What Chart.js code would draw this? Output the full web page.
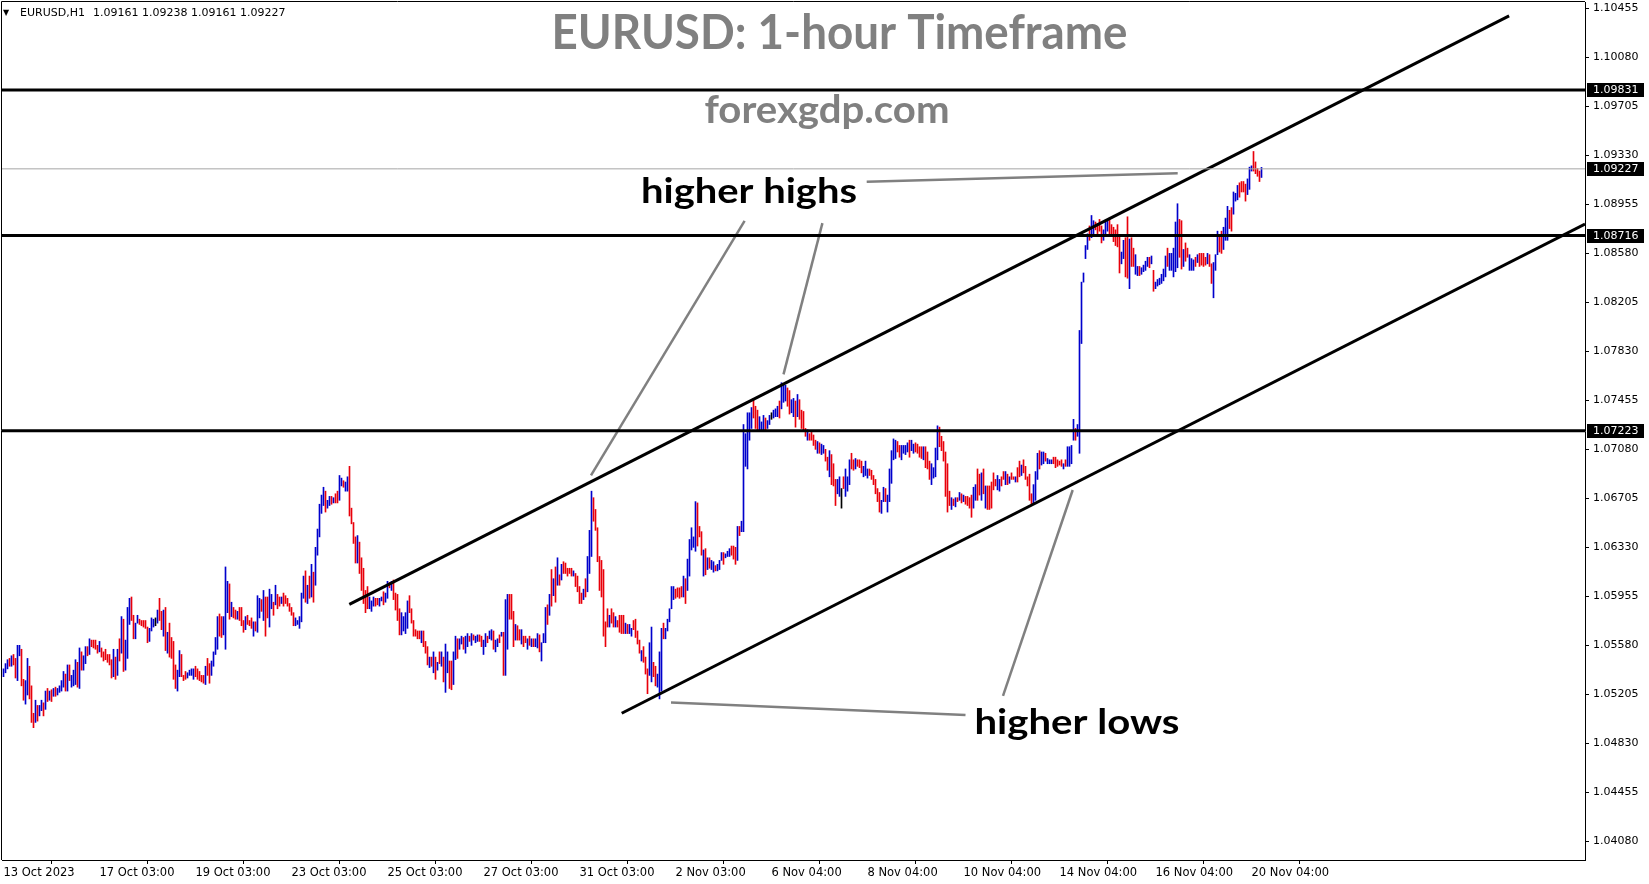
<!DOCTYPE html>
<html>
<head>
<meta charset="utf-8">
<title>EURUSD H1</title>
<script src="https://cdn.jsdelivr.net/npm/chart.js@4.4.0/dist/chart.umd.min.js"></script>
<style>
  html, body { margin: 0; padding: 0; background: #fff; }
  #wrap { width: 1649px; height: 884px; }
</style>
</head>
<body>
<div id="wrap"><canvas id="eurusdChart" width="1649" height="884"></canvas></div>
<script>
// EURUSD hourly bars, 13 Oct 2023 -> 20 Nov 2023
const highs = [
  1.0540,1.0544,1.0547,1.0548,1.0550,1.0551,1.0548,1.0558,1.0558,1.0555,
  1.0532,1.0531,1.0548,1.0542,1.0527,1.0506,1.0516,1.0512,1.0512,1.0516,
  1.0514,1.0523,1.0525,1.0523,1.0524,1.0525,1.0526,1.0525,1.0527,1.0531,
  1.0538,1.0536,1.0543,1.0543,1.0535,1.0539,1.0547,1.0545,1.0556,1.0553,
  1.0550,1.0557,1.0557,1.0563,1.0562,1.0562,1.0562,1.0558,1.0561,1.0556,
  1.0553,1.0555,1.0551,1.0551,1.0547,1.0555,1.0549,1.0555,1.0563,1.0580,
  1.0578,1.0562,1.0587,1.0594,1.0595,1.0581,1.0575,1.0581,1.0578,1.0577,
  1.0577,1.0577,1.0572,1.0571,1.0579,1.0578,1.0579,1.0585,1.0594,1.0584,
  1.0585,1.0587,1.0568,1.0575,1.0564,1.0561,1.0543,1.0539,1.0554,1.0551,
  1.0535,1.0538,1.0537,1.0539,1.0540,1.0540,1.0542,1.0540,1.0538,1.0535,
  1.0535,1.0542,1.0548,1.0544,1.0546,1.0553,1.0564,1.0580,1.0582,1.0580,
  1.0580,1.0618,1.0607,1.0605,1.0591,1.0587,1.0585,1.0584,1.0587,1.0587,
  1.0577,1.0580,1.0581,1.0577,1.0579,1.0576,1.0576,1.0596,1.0594,1.0593,
  1.0600,1.0595,1.0595,1.0601,1.0597,1.0591,1.0604,1.0597,1.0595,1.0595,
  1.0598,1.0596,1.0594,1.0590,1.0587,1.0583,1.0579,1.0577,1.0580,1.0598,
  1.0611,1.0615,1.0604,1.0611,1.0620,1.0614,1.0633,1.0647,1.0666,1.0673,
  1.0679,1.0676,1.0669,1.0672,1.0672,1.0671,1.0674,1.0676,1.0688,1.0686,
  1.0684,1.0683,1.0687,1.0695,1.0663,1.0652,1.0641,1.0642,1.0637,1.0625,
  1.0617,1.0600,1.0603,1.0595,1.0592,1.0595,1.0594,1.0594,1.0594,1.0595,
  1.0599,1.0598,1.0607,1.0606,1.0607,1.0608,1.0598,1.0597,1.0586,1.0583,
  1.0580,1.0583,1.0592,1.0596,1.0586,1.0577,1.0570,1.0569,1.0569,1.0569,
  1.0569,1.0561,1.0557,1.0549,1.0549,1.0553,1.0549,1.0545,1.0553,1.0553,
  1.0549,1.0559,1.0553,1.0546,1.0546,1.0553,1.0565,1.0563,1.0563,1.0565,
  1.0564,1.0565,1.0567,1.0565,1.0567,1.0566,1.0565,1.0566,1.0566,1.0565,
  1.0562,1.0567,1.0565,1.0569,1.0570,1.0569,1.0562,1.0563,1.0566,1.0568,
  1.0568,1.0593,1.0597,1.0597,1.0597,1.0584,1.0574,1.0573,1.0570,1.0570,
  1.0565,1.0565,1.0563,1.0565,1.0563,1.0563,1.0563,1.0567,1.0566,1.0560,
  1.0567,1.0587,1.0589,1.0597,1.0616,1.0609,1.0618,1.0625,1.0612,1.0620,
  1.0622,1.0621,1.0617,1.0617,1.0617,1.0615,1.0613,1.0611,1.0603,1.0598,
  1.0601,1.0609,1.0626,1.0646,1.0676,1.0671,1.0662,1.0648,1.0626,1.0623,
  1.0616,1.0576,1.0586,1.0581,1.0586,1.0583,1.0580,1.0577,1.0581,1.0581,
  1.0581,1.0575,1.0574,1.0574,1.0571,1.0577,1.0578,1.0569,1.0562,1.0554,
  1.0557,1.0549,1.0540,1.0560,1.0572,1.0545,1.0542,1.0536,1.0553,1.0571,
  1.0575,1.0571,1.0578,1.0586,1.0603,1.0603,1.0601,1.0602,1.0602,1.0603,
  1.0611,1.0609,1.0624,1.0639,1.0648,1.0641,1.0668,1.0667,1.0649,1.0645,
  1.0631,1.0632,1.0625,1.0625,1.0623,1.0622,1.0619,1.0620,1.0623,1.0629,
  1.0629,1.0628,1.0630,1.0632,1.0634,1.0634,1.0633,1.0649,1.0649,1.0653,
  1.0727,1.0720,1.0736,1.0736,1.0740,1.0747,1.0741,1.0738,1.0733,1.0729,
  1.0734,1.0732,1.0730,1.0734,1.0736,1.0738,1.0739,1.0741,1.0745,1.0759,
  1.0757,1.0757,1.0755,1.0753,1.0746,1.0747,1.0745,1.0750,1.0746,1.0738,
  1.0737,1.0724,1.0723,1.0720,1.0721,1.0719,1.0715,1.0714,1.0713,1.0712,
  1.0711,1.0708,1.0702,1.0707,1.0704,1.0697,1.0685,1.0685,1.0687,1.0678,
  1.0687,1.0693,1.0687,1.0700,1.0705,1.0700,1.0701,1.0700,1.0700,1.0699,
  1.0695,1.0699,1.0693,1.0693,1.0692,1.0688,1.0685,1.0678,1.0675,1.0669,
  1.0679,1.0678,1.0673,1.0693,1.0707,1.0716,1.0715,1.0714,1.0711,1.0711,
  1.0711,1.0711,1.0713,1.0715,1.0715,1.0712,1.0713,1.0712,1.0710,1.0710,
  1.0710,1.0710,1.0706,1.0699,1.0697,1.0694,1.0709,1.0726,1.0725,1.0718,
  1.0714,1.0706,1.0697,1.0676,1.0671,1.0670,1.0671,1.0671,1.0675,1.0674,
  1.0673,1.0672,1.0672,1.0671,1.0673,1.0679,1.0681,1.0693,1.0689,1.0690,
  1.0693,1.0680,1.0680,1.0680,1.0683,1.0690,1.0685,1.0688,1.0685,1.0687,
  1.0691,1.0691,1.0689,1.0687,1.0690,1.0687,1.0687,1.0694,1.0699,1.0696,
  1.0700,1.0695,1.0687,1.0689,1.0674,1.0681,1.0691,1.0705,1.0707,1.0706,
  1.0706,1.0705,1.0701,1.0700,1.0700,1.0702,1.0702,1.0700,1.0699,1.0700,
  1.0697,1.0700,1.0710,1.0710,1.0711,1.0731,1.0724,1.0727,1.0799,1.0836,
  1.0843,1.0864,1.0873,1.0879,1.0887,1.0883,1.0882,1.0881,1.0884,1.0879,
  1.0876,1.0882,1.0883,1.0885,1.0880,1.0878,1.0876,1.0880,1.0871,1.0859,
  1.0868,1.0870,1.0886,1.0869,1.0870,1.0862,1.0857,1.0848,1.0848,1.0847,
  1.0849,1.0852,1.0855,1.0855,1.0856,1.0845,1.0836,1.0838,1.0839,1.0842,
  1.0846,1.0856,1.0862,1.0858,1.0858,1.0862,1.0882,1.0896,1.0884,1.0883,
  1.0861,1.0866,1.0862,1.0857,1.0854,1.0853,1.0855,1.0857,1.0858,1.0858,
  1.0858,1.0855,1.0858,1.0857,1.0850,1.0851,1.0857,1.0875,1.0872,1.0875,
  1.0878,1.0885,1.0894,1.0891,1.0893,1.0905,1.0904,1.0910,1.0912,1.0913,
  1.0913,1.0911,1.0915,1.0924,1.0925,1.0936,1.0928,1.0923,1.0921,1.09238
];
const lows = [
  1.0534,1.0537,1.0540,1.0542,1.0542,1.0543,1.0533,1.0531,1.0550,1.0527,
  1.0516,1.0513,1.0520,1.0517,1.0499,1.0495,1.0499,1.0500,1.0504,1.0508,
  1.0504,1.0509,1.0515,1.0516,1.0515,1.0519,1.0519,1.0520,1.0522,1.0523,
  1.0526,1.0523,1.0523,1.0531,1.0526,1.0527,1.0528,1.0526,1.0525,1.0539,
  1.0539,1.0544,1.0550,1.0551,1.0557,1.0556,1.0555,1.0552,1.0553,1.0549,
  1.0546,1.0547,1.0545,1.0543,1.0533,1.0534,1.0532,1.0535,1.0546,1.0552,
  1.0538,1.0539,1.0548,1.0574,1.0577,1.0563,1.0563,1.0575,1.0574,1.0573,
  1.0572,1.0571,1.0560,1.0561,1.0569,1.0572,1.0573,1.0575,1.0577,1.0570,
  1.0565,1.0554,1.0552,1.0549,1.0548,1.0532,1.0525,1.0523,1.0534,1.0534,
  1.0531,1.0532,1.0533,1.0535,1.0535,1.0532,1.0534,1.0532,1.0531,1.0530,
  1.0529,1.0528,1.0535,1.0529,1.0535,1.0542,1.0551,1.0555,1.0565,1.0564,
  1.0566,1.0555,1.0583,1.0578,1.0580,1.0579,1.0578,1.0578,1.0577,1.0573,
  1.0568,1.0570,1.0574,1.0573,1.0571,1.0565,1.0569,1.0568,1.0579,1.0584,
  1.0577,1.0565,1.0579,1.0572,1.0586,1.0581,1.0589,1.0586,1.0588,1.0590,
  1.0588,1.0590,1.0588,1.0584,1.0581,1.0573,1.0573,1.0574,1.0571,1.0576,
  1.0594,1.0591,1.0590,1.0594,1.0595,1.0591,1.0604,1.0627,1.0641,1.0659,
  1.0665,1.0660,1.0663,1.0665,1.0666,1.0667,1.0667,1.0667,1.0669,1.0680,
  1.0679,1.0676,1.0676,1.0657,1.0651,1.0636,1.0621,1.0621,1.0613,1.0600,
  1.0590,1.0583,1.0586,1.0586,1.0584,1.0588,1.0588,1.0589,1.0588,1.0592,
  1.0589,1.0591,1.0594,1.0602,1.0600,1.0593,1.0585,1.0577,1.0566,1.0566,
  1.0569,1.0567,1.0571,1.0583,1.0575,1.0565,1.0565,1.0563,1.0563,1.0560,
  1.0557,1.0552,1.0543,1.0541,1.0542,1.0537,1.0532,1.0539,1.0544,1.0542,
  1.0530,1.0522,1.0537,1.0525,1.0524,1.0528,1.0547,1.0548,1.0555,1.0559,
  1.0555,1.0552,1.0557,1.0561,1.0558,1.0562,1.0560,1.0561,1.0561,1.0557,
  1.0551,1.0557,1.0560,1.0563,1.0562,1.0555,1.0553,1.0557,1.0560,1.0565,
  1.0535,1.0535,1.0555,1.0578,1.0578,1.0557,1.0562,1.0562,1.0562,1.0559,
  1.0557,1.0560,1.0555,1.0558,1.0557,1.0557,1.0557,1.0556,1.0553,1.0546,
  1.0560,1.0560,1.0574,1.0581,1.0588,1.0596,1.0591,1.0604,1.0604,1.0608,
  1.0613,1.0613,1.0611,1.0613,1.0611,1.0611,1.0603,1.0599,1.0590,1.0590,
  1.0593,1.0595,1.0599,1.0613,1.0626,1.0653,1.0646,1.0622,1.0600,1.0595,
  1.0565,1.0557,1.0572,1.0572,1.0575,1.0572,1.0572,1.0572,1.0568,1.0567,
  1.0567,1.0567,1.0567,1.0567,1.0565,1.0570,1.0564,1.0559,1.0552,1.0546,
  1.0545,1.0536,1.0521,1.0535,1.0530,1.0534,1.0527,1.0526,1.0517,1.0523,
  1.0563,1.0563,1.0569,1.0576,1.0586,1.0593,1.0594,1.0595,1.0594,1.0595,
  1.0595,1.0590,1.0600,1.0611,1.0631,1.0633,1.0630,1.0634,1.0641,1.0627,
  1.0611,1.0612,1.0616,1.0617,1.0616,1.0614,1.0615,1.0615,1.0616,1.0623,
  1.0620,1.0625,1.0626,1.0626,1.0627,1.0624,1.0620,1.0623,1.0642,1.0645,
  1.0645,1.0695,1.0693,1.0715,1.0724,1.0732,1.0724,1.0723,1.0723,1.0723,
  1.0723,1.0723,1.0724,1.0727,1.0731,1.0732,1.0733,1.0733,1.0732,1.0739,
  1.0744,1.0745,1.0741,1.0735,1.0736,1.0733,1.0725,1.0733,1.0731,1.0724,
  1.0723,1.0718,1.0715,1.0715,1.0715,1.0711,1.0708,1.0705,1.0705,1.0704,
  1.0705,1.0699,1.0692,1.0687,1.0681,1.0680,1.0665,1.0674,1.0672,1.0663,
  1.0678,1.0672,1.0676,1.0681,1.0693,1.0692,1.0693,1.0695,1.0694,1.0690,
  1.0687,1.0688,1.0686,1.0688,1.0685,1.0681,1.0674,1.0668,1.0660,1.0659,
  1.0668,1.0668,1.0660,1.0668,1.0682,1.0700,1.0701,1.0706,1.0702,1.0700,
  1.0705,1.0704,1.0706,1.0702,1.0707,1.0705,1.0706,1.0705,1.0702,1.0701,
  1.0700,1.0694,1.0693,1.0685,1.0681,1.0686,1.0687,1.0700,1.0710,1.0707,
  1.0699,1.0672,1.0660,1.0665,1.0662,1.0665,1.0664,1.0668,1.0669,1.0667,
  1.0668,1.0666,1.0665,1.0663,1.0656,1.0663,1.0669,1.0669,1.0673,1.0669,
  1.0674,1.0663,1.0662,1.0662,1.0663,1.0677,1.0680,1.0677,1.0676,1.0680,
  1.0685,1.0681,1.0681,1.0682,1.0685,1.0685,1.0683,1.0683,1.0687,1.0688,
  1.0690,1.0685,1.0680,1.0669,1.0666,1.0667,1.0669,1.0685,1.0693,1.0696,
  1.0697,1.0699,1.0697,1.0697,1.0697,1.0697,1.0694,1.0695,1.0696,1.0695,
  1.0693,1.0695,1.0695,1.0695,1.0697,1.0715,1.0715,1.0718,1.0705,1.0789,
  1.0836,1.0854,1.0861,1.0868,1.0870,1.0871,1.0876,1.0873,1.0875,1.0866,
  1.0868,1.0872,1.0875,1.0871,1.0873,1.0867,1.0864,1.0863,1.0843,1.0850,
  1.0854,1.0840,1.0839,1.0831,1.0848,1.0848,1.0842,1.0841,1.0841,1.0842,
  1.0844,1.0845,1.0848,1.0847,1.0850,1.0829,1.0831,1.0833,1.0834,1.0835,
  1.0837,1.0840,1.0848,1.0845,1.0845,1.0840,1.0844,1.0847,1.0855,1.0846,
  1.0848,1.0852,1.0855,1.0845,1.0845,1.0845,1.0848,1.0851,1.0848,1.0849,
  1.0848,1.0849,1.0850,1.0848,1.0835,1.0824,1.0845,1.0857,1.0859,1.0858,
  1.0861,1.0868,1.0868,1.0877,1.0875,1.0888,1.0898,1.0899,1.0901,1.0905,
  1.0905,1.0898,1.0903,1.0907,1.0921,1.0921,1.0919,1.0917,1.0913,1.09161
];
// bar colour per hour: b = up, r = down, k = unchanged
const dirs =
  'bbbrbrrbbr' + 'rbbrrrbrbb' + 'rbrbrbrbbb' + 'brbrbbbrbr' + 'bbrbrrrrbr' +
  'rrrrrbrbrb' + 'rbbbrrbbrr' + 'rrrbbbkbrr' + 'brbrrrrbbr' + 'rrbbbbrrrr' +
  'rbrrbbbbrr' + 'bbbrbrrbrr' + 'rbrrrbrbbr' + 'brrbbrbrrb' + 'rrrrrrbbbb' +
  'brbrbrbbbb' + 'brbbrbrrbb' + 'rbbrrrrbrr' + 'rrrbbbrrbb' + 'rbbrbrrrrb' +
  'bbbrrrrrrb' + 'rrrbrbrbrb' + 'rbbrrbbrbb' + 'rbbrbrbbrr' + 'bbrbbrbbrb' +
  'rbbrrrbrrb' + 'rrbrbrbbrb' + 'bbrbrbrbrb' + 'rrrrrbrrrr' + 'brbbbrrrrr' +
  'rrrbrrbrrr' + 'rbrbbrrrrb' + 'rrrbbrrbbb' + 'rbbbbbrrrr' + 'brbbbbbrrr' +
  'brbrbbrbbb' + 'rbbbrrrbrb' + 'bbbbbrrrbb' + 'brbbkbbbrb' + 'bbrrbbrbrr' +
  'rrbrrrrbrb' + 'brrbrrrbbk' + 'rbbbrrbrrr' + 'bbbrrrrrrb' + 'brbbbbbrrb' +
  'bbbrbbrrrr' + 'brrrbbbbrr' + 'rrrrbrbrbr' + 'brrrrbbrrb' + 'rbrrrrrbbr' +
  'rbrbrrbrrb' + 'rrrrrbbbrb' + 'brbbbrrrrr' + 'brbbbbrbbb' + 'bbbrbbrrrr' +
  'bbbrrrrrrb' + 'brrbrrbbrb' + 'bbbrbrbbbb' + 'bbrbbbbbrr' + 'brrbbbrbrr' +
  'rrbrrbbbrr' + 'bbbrrbbbrr' + 'rrbbbrrrrb';

const tickBars = [0, 48, 96, 144, 192, 240, 288, 336, 384, 432, 480, 528, 576, 624];
const tickLabels = ['13 Oct 2023', '17 Oct 03:00', '19 Oct 03:00', '23 Oct 03:00', '25 Oct 03:00',
  '27 Oct 03:00', '31 Oct 03:00', '2 Nov 03:00', '6 Nov 04:00', '8 Nov 04:00', '10 Nov 04:00',
  '14 Nov 04:00', '16 Nov 04:00', '20 Nov 04:00'];
const priceTicks = [1.04080, 1.04455, 1.04830, 1.05205, 1.05580, 1.05955, 1.06330, 1.06705, 1.07080,
  1.07455, 1.07830, 1.08205, 1.08580, 1.08955, 1.09330, 1.09705, 1.10080, 1.10455];

const levels = [1.09831, 1.08716, 1.07223];
const lastPrice = 1.09227;
const lastBar = ['1.09161', '1.09238', '1.09161', '1.09227'];

// channel lines and pointer lines, as (bar number, price)
const upperTrend = [{ x: 172.9, y: 1.05894 }, { x: 752.8, y: 1.10398 }];
const lowerTrend = [{ x: 309.1, y: 1.05060 }, { x: 790.75, y: 1.08805 }];
const pointers = [
  [{ x: 370.55, y: 1.08828 }, { x: 293.75, y: 1.06881 }],
  [{ x: 409.45, y: 1.08812 }, { x: 390, y: 1.07654 }],
  [{ x: 431.6, y: 1.09128 }, { x: 587.1, y: 1.09193 }],
  [{ x: 333.75, y: 1.05143 }, { x: 481, y: 1.05047 }],
  [{ x: 499.75, y: 1.05193 }, { x: 534.6, y: 1.06769 }]
];

const X_MIN = -0.75, X_MAX = 790.75;
const barColor = { b: '#0000cc', r: '#e8000b', k: '#000000' };

const barData = highs.map((h, i) => ({ x: i, y: [lows[i], h] }));

function lineSet(points, color, width) {
  return {
    type: 'line', data: points, borderColor: color, borderWidth: width,
    pointRadius: 0, fill: false, tension: 0, order: 0
  };
}

const datasets = [{
  type: 'bar',
  data: barData,
  backgroundColor: ctx => barColor[dirs[ctx.dataIndex]] || '#000',
  borderWidth: 0,
  barThickness: 1,
  minBarLength: 1,
  grouped: false,
  order: 10
}];
datasets.push(lineSet([{ x: X_MIN, y: lastPrice }, { x: X_MAX, y: lastPrice }], '#a6a6a6', 1));
levels.forEach(v => datasets.push(lineSet([{ x: X_MIN, y: v }, { x: X_MAX, y: v }], '#000', 3)));
datasets.push(lineSet(upperTrend, '#000', 3));
datasets.push(lineSet(lowerTrend, '#000', 3));
pointers.forEach(p => datasets.push(lineSet(p, '#808080', 2.5)));

// text drawn over the chart, squeezed to the width seen in the screenshot
function fitText(ctx, text, font, cx, base, width, color) {
  ctx.save();
  ctx.font = font;
  ctx.fillStyle = color;
  ctx.textAlign = 'center';
  ctx.textBaseline = 'alphabetic';
  const w = ctx.measureText(text).width;
  ctx.translate(cx, base);
  ctx.scale(width / w, 1);
  ctx.fillText(text, 0, 0);
  ctx.restore();
}

const overlay = {
  id: 'overlay',
  afterDraw(chart) {
    const ctx = chart.ctx;
    const area = chart.chartArea;
    const y = chart.scales.y;

    // frame on left and top
    ctx.save();
    ctx.strokeStyle = '#000';
    ctx.lineWidth = 1;
    ctx.beginPath();
    ctx.moveTo(area.left - 0.5, area.bottom);
    ctx.lineTo(area.left - 0.5, area.top - 0.5);
    ctx.lineTo(area.right, area.top - 0.5);
    ctx.stroke();
    ctx.restore();

    fitText(ctx, 'EURUSD: 1-hour Timeframe', 'bold 48px Lato', 839.5, 49, 576, '#808080');
    fitText(ctx, 'forexgdp.com', 'bold 39px Lato', 827, 123, 245, '#808080');
    fitText(ctx, 'higher highs', 'bold 35px Lato', 749, 203, 216, '#000');
    fitText(ctx, 'higher lows', 'bold 34px Lato', 1077, 734, 205, '#000');

    // symbol line in the corner
    ctx.save();
    ctx.fillStyle = '#000';
    ctx.textBaseline = 'alphabetic';
    ctx.textAlign = 'left';
    ctx.font = '8px "DejaVu Sans"';
    ctx.fillText('\u25BC', 3, 15);
    ctx.font = '11px "DejaVu Sans"';
    ctx.fillText('EURUSD,H1', 20, 16);
    ctx.fillText(lastBar.join(' '), 93, 16);
    ctx.restore();

    // boxed price labels on the axis
    ctx.save();
    ctx.font = '11px "DejaVu Sans"';
    ctx.textBaseline = 'middle';
    ctx.textAlign = 'left';
    [...levels, lastPrice].forEach(v => {
      const py = Math.round(y.getPixelForValue(v));
      ctx.fillStyle = '#000';
      ctx.fillRect(area.right + 2, py - 7, 57, 14);
      ctx.fillStyle = '#fff';
      ctx.fillText(v.toFixed(5), area.right + 8, py + 0.5);
    });
    ctx.restore();
  }
};

new Chart(document.getElementById('eurusdChart').getContext('2d'), {
  type: 'bar',
  data: { datasets: datasets },
  options: {
    responsive: false,
    animation: false,
    events: [],
    layout: { padding: { left: 2, top: 2, right: 0, bottom: 0 } },
    plugins: { legend: { display: false }, tooltip: { enabled: false } },
    scales: {
      x: {
        type: 'linear',
        min: X_MIN,
        max: X_MAX,
        offset: false,
        afterBuildTicks: s => { s.ticks = tickBars.map(v => ({ value: v })); },
        afterFit: s => { s.height = 24; s.paddingLeft = 0; s.paddingRight = 0; },
        grid: { drawOnChartArea: false, tickLength: 4, color: '#000' },
        border: { color: '#000', width: 1 },
        ticks: {
          autoSkip: false, maxRotation: 0, minRotation: 0, align: 'start', padding: 2,
          color: '#000', font: { family: 'DejaVu Sans', size: 11.5 },
          callback: v => tickLabels[tickBars.indexOf(v)]
        }
      },
      y: {
        type: 'linear',
        position: 'right',
        min: 1.03937,
        max: 1.10504,
        afterBuildTicks: s => { s.ticks = priceTicks.map(v => ({ value: v })); },
        afterFit: s => { s.width = 64; s.paddingTop = 0; s.paddingBottom = 0; },
        grid: { drawOnChartArea: false, tickLength: 4, color: '#000' },
        border: { color: '#000', width: 1 },
        ticks: {
          autoSkip: false, padding: 4, color: '#000',
          font: { family: 'DejaVu Sans', size: 11 },
          callback: v => v.toFixed(5)
        }
      }
    }
  },
  plugins: [overlay]
});
</script>
</body>
</html>
